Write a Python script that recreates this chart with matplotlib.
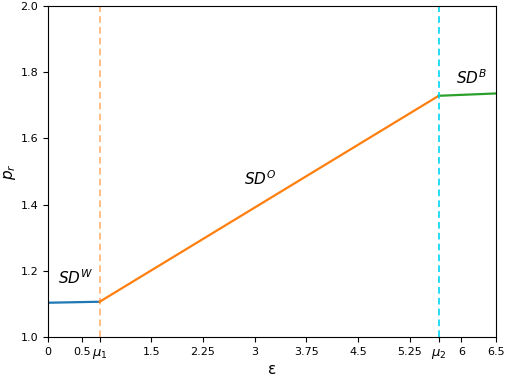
import matplotlib
matplotlib.use("Agg")
import matplotlib.pyplot as plt

# Data
mu1 = 0.75
mu2 = 5.67
seg_w_x = [0.0, mu1]
seg_w_y = [1.104, 1.107]
seg_o_x = [mu1, mu2]
seg_o_y = [1.107, 1.729]
seg_b_x = [mu2, 6.5]
seg_b_y = [1.729, 1.736]
xtick_vals = [0, 0.5, mu1, 1.5, 2.25, 3, 3.75, 4.5, 5.25, mu2, 6, 6.5]
xtick_labels = ["0", "0.5", r"$\mu_1$", "1.5", "2.25", "3", "3.75", "4.5", "5.25", r"$\mu_2$", "6", "6.5"]
ytick_vals = [1.0, 1.2, 1.4, 1.6, 1.8, 2.0]

fig = plt.figure(figsize=(5.05, 3.78), dpi=100)
ax = fig.add_axes([0.095, 0.108, 0.887, 0.876])

ax.plot(seg_w_x, seg_w_y, color="#1f77b4", lw=1.6)
ax.plot(seg_o_x, seg_o_y, color="#ff7f0e", lw=1.6)
ax.plot(seg_b_x, seg_b_y, color="#2ca02c", lw=1.6)
ax.axvline(mu1, color="#ff7f0e", alpha=0.6, ls=(0, (4, 2.5)), lw=1.2)
ax.axvline(mu2, color="#00d5f5", ls=(0, (4, 2.5)), lw=1.2)

ax.text(0.15, 1.16, r"$SD^W$", fontsize=11)
ax.text(2.85, 1.46, r"$SD^O$", fontsize=11)
ax.text(5.92, 1.765, r"$SD^B$", fontsize=11)

ax.set_xlim(0, 6.5)
ax.set_ylim(1.0, 2.0)
ax.set_xticks(xtick_vals)
ax.set_xticklabels(xtick_labels)
ax.set_yticks(ytick_vals)
ax.tick_params(labelsize=8)
for lbl in ax.get_xticklabels():
    if "mu" in lbl.get_text():
        lbl.set_fontsize(9.5)
ax.set_xlabel("ε", fontsize=11, labelpad=1)
ax.set_ylabel(r"$p_r$", fontsize=11, labelpad=2)

fig.savefig("out.png", dpi=100)
